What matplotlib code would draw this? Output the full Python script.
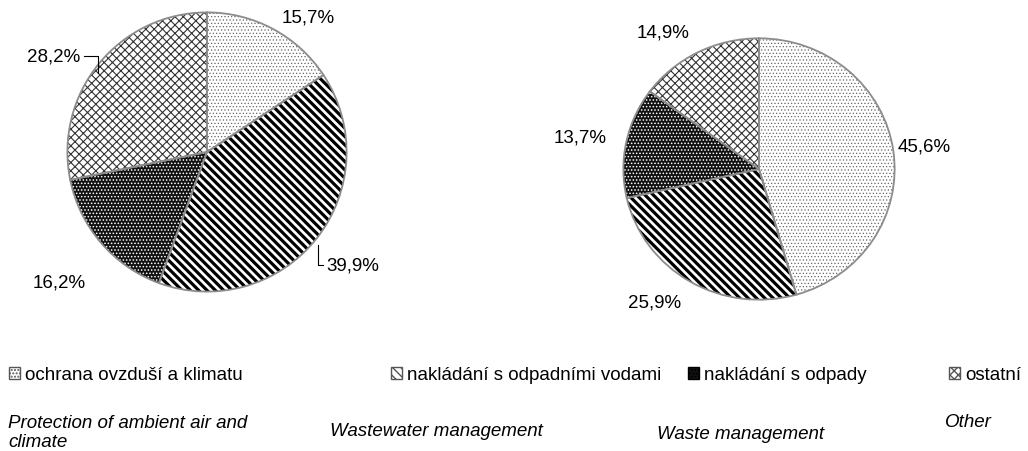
import numpy as np
import matplotlib
matplotlib.use("Agg")
import matplotlib.pyplot as plt
from matplotlib.lines import Line2D
from matplotlib.patches import Patch

plt.rcParams['font.family'] = ['Liberation Sans', 'DejaVu Sans']

categories_cz = ['ochrana ovzduší a klimatu', 'nakládání s odpadními vodami',
                 'nakládání s odpady', 'ostatní']
categories_en = ['Protection of ambient air and\nclimate', 'Wastewater management',
                 'Waste management', 'Other']
left_values = [15.7, 39.9, 16.2, 28.2]
right_values = [45.6, 25.9, 13.7, 14.9]

W, H = 1028, 452
fig = plt.figure(figsize=(W / 100, H / 100), dpi=100)
fig.patch.set_facecolor('white')


def fx(px):
    return px / W


def fy(py):
    return 1 - py / H


# face colour, hatch colour, hatch pattern, hatch linewidth
styles = [
    ('white', '#666666', '.....', 0.5),
    ('white', 'black', '\\\\\\\\', 2.3),
    ('#111111', 'white', '.....', 0.7),
    ('white', '#333333', 'xxxx', 0.8),
]


def style_patch(p, st):
    fc, hc, hatch, hlw = st
    p.set_facecolor(fc)
    p.set_edgecolor(hc)
    p.set_hatch(hatch)
    if hasattr(p, 'set_hatch_linewidth'):
        p.set_hatch_linewidth(hlw)


def draw_pie(cx, cy, rx, ry, values):
    ax = fig.add_axes([fx(cx - rx), fy(cy + ry), 2 * rx / W, 2 * ry / H])
    wedges, _ = ax.pie(values, startangle=90, counterclock=False, radius=1,
                       wedgeprops=dict(linewidth=0))
    for w, st in zip(wedges, styles):
        style_patch(w, st)
    ax.pie(values, startangle=90, counterclock=False, radius=1,
           wedgeprops=dict(fill=False, edgecolor='#8c8c8c', linewidth=1.3))
    ax.set_xlim(-1.01, 1.01)
    ax.set_ylim(-1.01, 1.01)
    ax.set_aspect('auto')
    ax.axis('off')
    return wedges


def edge_point(cx, cy, rx, ry, values, i):
    total = sum(values)
    mid = (sum(values[:i]) + values[i] / 2) / total * 2 * np.pi
    return cx + rx * np.sin(mid), cy - ry * np.cos(mid)


def pct(v):
    return f'{v:.1f}%'.replace('.', ',')


lc, lcy, lr = 207, 153, 141
rc, rcy, rrx, rry = 759, 170, 137, 132

draw_pie(lc, lcy, lr, lr, left_values)
draw_pie(rc, rcy, rrx, rry, right_values)

fs = 13.5
# left pie labels
fig.text(fx(282), fy(18), pct(left_values[0]), fontsize=fs, va='center')
fig.text(fx(326), fy(266), pct(left_values[1]), fontsize=fs, va='center')
fig.text(fx(86), fy(283), pct(left_values[2]), fontsize=fs, va='center', ha='right')
fig.text(fx(80), fy(57), pct(left_values[3]), fontsize=fs, va='center', ha='right')

px, py = edge_point(lc, lcy, lr, lr, left_values, 1)
fig.add_artist(Line2D([fx(px), fx(px), fx(323)], [fy(py + 6), fy(266), fy(266)],
                      color='black', lw=0.8))
px, py = edge_point(lc, lcy, lr, lr, left_values, 3)
fig.add_artist(Line2D([fx(84), fx(px), fx(px)], [fy(57), fy(57), fy(py + 10)],
                      color='black', lw=0.8))

# right pie labels
fig.text(fx(637), fy(33), pct(right_values[3]), fontsize=fs, va='center')
fig.text(fx(898), fy(147), pct(right_values[0]), fontsize=fs, va='center')
fig.text(fx(607), fy(138), pct(right_values[2]), fontsize=fs, va='center', ha='right')
fig.text(fx(628), fy(303), pct(right_values[1]), fontsize=fs, va='center')

# legend entries (uneven spacing as in the original)
leg_x = [9, 391, 688, 949]
for st, name, x in zip(styles, categories_cz, leg_x):
    h = Patch()
    style_patch(h, st)
    h.set_edgecolor('#555555' if st[0] == 'white' else 'black')
    fig.legend([h], [name], loc='center left',
               bbox_to_anchor=(fx(x), fy(376)), frameon=False,
               fontsize=fs, handlelength=0.6, handleheight=0.6,
               handletextpad=0.25, borderpad=0, borderaxespad=0)

en_pos = [(8, 433), (330, 432), (657, 435), (945, 423)]
for name, (x, y) in zip(categories_en, en_pos):
    fig.text(fx(x), fy(y), name, fontsize=fs, style='italic', va='center',
             linespacing=1.2)

fig.savefig('out.png', dpi=100)
